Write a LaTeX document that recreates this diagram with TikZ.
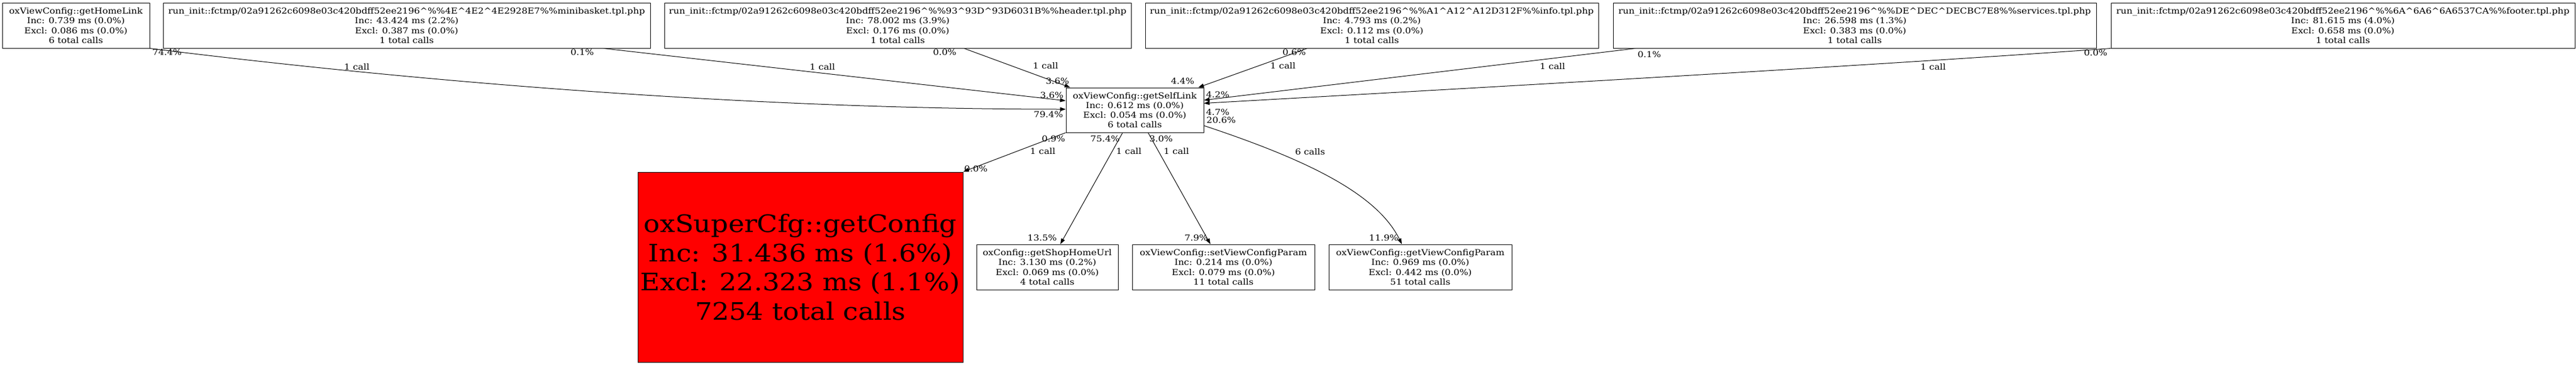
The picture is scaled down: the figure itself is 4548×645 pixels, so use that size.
\documentclass[tikz,border=0pt]{standalone}
\usepackage{fontspec}
\setmainfont{DejaVu Serif}[FakeStretch=1.12]
\usetikzlibrary{arrows.meta,calc}
\newcommand{\ca}{\textasciicircum}
\begin{document}
\begin{tikzpicture}[x=1pt,y=-1pt,
  fn/.style={draw=black, line width=1pt, rectangle, inner sep=0pt, align=center,
    font=\fontsize{14.5}{17.2}\selectfont, minimum height=80pt},
  big/.style={fn, fill=red, font=\fontsize{42.5}{51.6}\selectfont},
  lbl/.style={inner sep=0pt, font=\fontsize{14.5}{17.2}\selectfont},
  edge/.style={draw=black, line width=1pt, -{Triangle[length=10pt,width=7pt]}},
]
\path[use as bounding box, fill=white] (0,0) rectangle (4548,645);

% top row
\node[fn, minimum width=260pt] (n1) at (134,45) {oxViewConfig::getHomeLink\\Inc: 0.739 ms (0.0\%)\\Excl: 0.086 ms (0.0\%)\\6 total calls};
\node[fn, minimum width=860pt] (n2) at (718,45) {run\_init::fctmp/02a91262c6098e03c420bdff52ee2196\ca\%\%4E\ca 4E2\ca 4E2928E7\%\%minibasket.tpl.php\\Inc: 43.424 ms (2.2\%)\\Excl: 0.387 ms (0.0\%)\\1 total calls};
\node[fn, minimum width=824pt] (n3) at (1585,45) {run\_init::fctmp/02a91262c6098e03c420bdff52ee2196\ca\%\%93\ca 93D\ca 93D6031B\%\%header.tpl.php\\Inc: 78.002 ms (3.9\%)\\Excl: 0.176 ms (0.0\%)\\1 total calls};
\node[fn, minimum width=800pt] (n4) at (2422,45) {run\_init::fctmp/02a91262c6098e03c420bdff52ee2196\ca\%\%A1\ca A12\ca A12D312F\%\%info.tpl.php\\Inc: 4.793 ms (0.2\%)\\Excl: 0.112 ms (0.0\%)\\1 total calls};
\node[fn, minimum width=853pt] (n5) at (3274.5,45) {run\_init::fctmp/02a91262c6098e03c420bdff52ee2196\ca\%\%DE\ca DEC\ca DECBC7E8\%\%services.tpl.php\\Inc: 26.598 ms (1.3\%)\\Excl: 0.383 ms (0.0\%)\\1 total calls};
\node[fn, minimum width=819pt] (n6) at (4136.5,45) {run\_init::fctmp/02a91262c6098e03c420bdff52ee2196\ca\%\%6A\ca 6A6\ca 6A6537CA\%\%footer.tpl.php\\Inc: 81.615 ms (4.0\%)\\Excl: 0.658 ms (0.0\%)\\1 total calls};

% middle
\node[fn, minimum width=243pt, minimum height=79pt] (main) at (2003.5,194.5) {oxViewConfig::getSelfLink\\Inc: 0.612 ms (0.0\%)\\Excl: 0.054 ms (0.0\%)\\6 total calls};

% bottom
\node[big, minimum width=574pt, minimum height=336pt] (red) at (1413,472) {oxSuperCfg::getConfig\\Inc: 31.436 ms (1.6\%)\\Excl: 22.323 ms (1.1\%)\\7254 total calls};
\node[fn, minimum width=250pt] (n7) at (1849,472) {oxConfig::getShopHomeUrl\\Inc: 3.130 ms (0.2\%)\\Excl: 0.069 ms (0.0\%)\\4 total calls};
\node[fn, minimum width=322pt] (n8) at (2160,472) {oxViewConfig::setViewConfigParam\\Inc: 0.214 ms (0.0\%)\\Excl: 0.079 ms (0.0\%)\\11 total calls};
\node[fn, minimum width=323pt] (n9) at (2507.5,472) {oxViewConfig::getViewConfigParam\\Inc: 0.969 ms (0.0\%)\\Excl: 0.442 ms (0.0\%)\\51 total calls};

% incoming edges
\draw[edge] (n1.south east) .. controls (700,140) and (1300,193) .. ($(main.west)+(0,-1.5)$);
\draw[edge] ($(n2.south east)+(-83,0)$) -- ($(main.west)+(0,-16.5)$);
\draw[edge] ($(n3.south)+(117,0)$) -- ($(main.north west)+(8,0)$);
\draw[edge] ($(n4.south)+(-114,0)$) -- ($(main.north east)+(-10,0)$);
\draw[edge] ($(n5.south west)+(40,0)$) -- ($(main.east)+(0,-17.5)$);
\draw[edge] (n6.south west) .. controls (3300,116) and (2700,150) .. ($(main.east)+(0,-12)$);

% outgoing edges
\draw[edge] (main.south west) -- (red.north east);
\draw[edge] ($(main.south)+(-21.5,0)$) -- ($(n7.north)+(23,0)$);
\draw[edge] ($(main.south)+(23.5,0)$) -- ($(n8.north)+(-23,0)$);
\draw[edge] ($(main.east)+(0,27.5)$) .. controls (2300,280) and (2430,340) .. ($(n9.north)+(-32.5,0)$);

% labels
\node[lbl] (l1) at (295,92) {74.4\%};
\node[lbl] (l2) at (630,118) {1 call};
\node[lbl] (l3) at (1028,92) {0.1\%};
\node[lbl] (l4) at (1452,118) {1 call};
\node[lbl] (l5) at (1668,92) {0.0\%};
\node[lbl] (l6) at (1846,116) {1 call};
\node[lbl] (l7) at (1867,143) {3.6\%};
\node[lbl] (l8) at (1857,168) {3.6\%};
\node[lbl] (l9) at (1851,202) {79.4\%};
\node[lbl] (l10) at (2285,92) {0.6\%};
\node[lbl] (l11) at (2265,116) {1 call};
\node[lbl] (l12) at (2088,143) {4.4\%};
\node[lbl] (l13) at (2912,96) {0.1\%};
\node[lbl] (l14) at (2741,117) {1 call};
\node[lbl] (l15) at (2150,167) {4.2\%};
\node[lbl] (l16) at (3700,93) {0.0\%};
\node[lbl] (l17) at (3413,118) {1 call};
\node[lbl] (l18) at (2150,198) {4.7\%};
\node[lbl] (l19) at (2156,212) {20.6\%};
\node[lbl] (l20) at (1860,245) {0.9\%};
\node[lbl] (l21) at (1841,267) {1 call};
\node[lbl] (l22) at (1723,298) {0.0\%};
\node[lbl] (l23) at (1951,245) {75.4\%};
\node[lbl] (l24) at (1993,267) {1 call};
\node[lbl] (l25) at (1840,420) {13.5\%};
\node[lbl] (l26) at (2050,245) {3.0\%};
\node[lbl] (l27) at (2077,267) {1 call};
\node[lbl] (l28) at (2112,420) {7.9\%};
\node[lbl] (l29) at (2313,268) {6 calls};
\node[lbl] (l30) at (2443,420) {11.9\%};
\end{tikzpicture}
\end{document}
